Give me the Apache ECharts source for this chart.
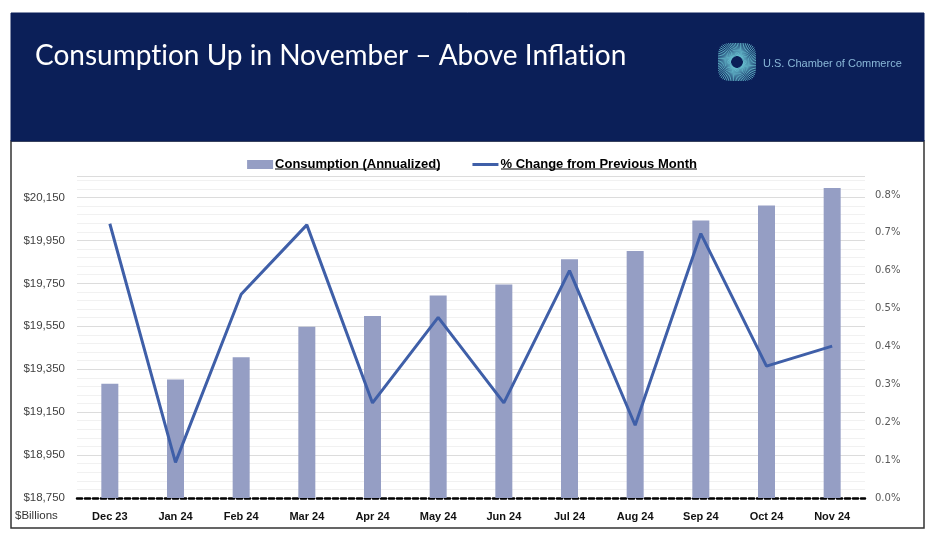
<!DOCTYPE html>
<html><head><meta charset="utf-8">
<script src="https://cdn.jsdelivr.net/npm/echarts@6/dist/echarts.min.js"></script>
<style>html,body{margin:0;padding:0;background:#fff}#c{width:944px;height:546px}</style>
</head><body><div id="c"></div>
<script>
// ---- data ----
const categories = ['Dec 23','Jan 24','Feb 24','Mar 24','Apr 24','May 24','Jun 24','Jul 24','Aug 24','Sep 24','Oct 24','Nov 24'];
const consumption = [19282,19302,19406,19548,19598,19693,19744,19862,19901,20043,20113,20194]; // $ billions, annualized
const pctChange = [0.724,0.094,0.538,0.721,0.251,0.477,0.251,0.600,0.192,0.698,0.348,0.401];   // % m/m
const leftTicks = [18750,18950,19150,19350,19550,19750,19950,20150];
const rightTicks = [0.0,0.1,0.2,0.3,0.4,0.5,0.6,0.7,0.8];
const leftAxisMax = 20250;
const rightAxisMax = 0.85;
const seriesNames = ['Consumption (Annualized)','% Change from Previous Month'];

const chart = echarts.init(document.getElementById('c'), null, {renderer:'canvas'});

// decorative logo (radial burst)
const logoLines = [];
const cx = 737, cy = 62;
for (let i = 0; i < 72; i++) {
  const a = i / 72 * Math.PI * 2;
  const c = Math.cos(a), s = Math.sin(a);
  const rOut = 19 / Math.pow(Math.pow(Math.abs(c),4)+Math.pow(Math.abs(s),4),0.25);
  const rIn = 6;
  const tw = 0.5;
  logoLines.push({type:'line', silent:true,
    shape:{x1:cx+rIn*Math.cos(a+tw), y1:cy+rIn*Math.sin(a+tw), x2:cx+rOut*c, y2:cy+rOut*s},
    style:{stroke:'#6fcad8', lineWidth:0.8}});
}

const fmtMoney = v => '$' + v.toLocaleString('en-US');

chart.setOption({
  animation:false,
  textStyle:{fontFamily:'Liberation Sans'},
  grid:{left:77, right:79, top:176, bottom:48},
  legend:{
    top:153, left:'center', itemGap:32, itemWidth:26, itemHeight:9,
    textStyle:{fontFamily:'Liberation Sans', fontWeight:'bold', fontSize:13, color:'#000', padding:[0,0,0,-3]},
    data:[{name:seriesNames[0], icon:'rect'},{name:seriesNames[1], icon:'path://M0,0 L26,0 L26,3 L0,3 Z'}]
  },
  xAxis:{
    type:'category', data:categories, boundaryGap:true,
    axisLine:{onZero:false, lineStyle:{color:'#000', width:2.5, type:[5,3]}},
    axisTick:{show:false},
    axisLabel:{margin:13, fontFamily:'Liberation Sans', fontWeight:'bold', fontSize:11, color:'#111'}
  },
  yAxis:[{
    type:'value', min:leftTicks[0], max:leftAxisMax, interval:leftTicks[1]-leftTicks[0],
    axisLine:{show:false}, axisTick:{show:false},
    axisLabel:{margin:12, fontSize:11.5, color:'#404040', showMaxLabel:false,
      formatter:v => leftTicks.includes(v) ? fmtMoney(v) : ''},
    splitLine:{lineStyle:{color:'#dcdcdc', width:1}},
    minorTick:{show:false, splitNumber:5},
    minorSplitLine:{show:true, lineStyle:{color:'#f1f1f1', width:1}}
  },{
    type:'value', min:rightTicks[0], max:rightAxisMax, interval:rightTicks[1]-rightTicks[0],
    axisLine:{show:false}, axisTick:{show:false}, splitLine:{show:false},
    axisLabel:{margin:10, fontFamily:'DejaVu Sans', fontSize:10, color:'#595959', showMaxLabel:false,
      formatter:v => rightTicks.some(t => Math.abs(t-v) < 1e-9) ? v.toFixed(1)+'%' : ''}
  }],
  series:[{
    name:seriesNames[0], type:'bar', yAxisIndex:0, data:consumption, barWidth:17,
    itemStyle:{color:'#959ec4'}
  },{
    name:seriesNames[1], type:'line', yAxisIndex:1, data:pctChange,
    symbol:'none', lineStyle:{color:'#3f5fa8', width:3}, itemStyle:{color:'#3f5fa8'}, z:5
  }],
  graphic:[
    {type:'rect', silent:true, z:-10, shape:{x:11, y:141, width:913, height:387}, style:{fill:'#fff', stroke:'#333', lineWidth:1.5}},
    {type:'rect', silent:true, z:-9, shape:{x:11, y:13, width:913, height:128}, style:{fill:'#0b1f58', stroke:'#0b1f58'}},
    {type:'text', silent:true, left:35, top:42, style:{
      text:'{t|Consumpt}{t|ion Up in November \u2013 Above Inflat}{t|ion}',
      rich:{t:{fill:'#fff', font:'28px Lato', fontFamily:'Lato', fontSize:28, color:'#fff'}},
      fill:'#fff', font:'28px Lato'}},
    {type:'group', silent:true, children:logoLines},
    {type:'circle', silent:true, shape:{cx:cx, cy:cy, r:5}, style:{fill:'#0b1f58'}},
    {type:'text', silent:true, left:763, top:58, style:{text:'U.S. Chamber of Commerce', fill:'#8ab8d8', font:'11px Liberation Sans'}},
    {type:'text', silent:true, left:15, top:510, style:{text:'$Billions', fill:'#333', font:'11.5px Liberation Sans'}},
    {type:'line', silent:true, shape:{x1:275, y1:169, x2:440, y2:169}, style:{stroke:'#000', lineWidth:1.2}},
    {type:'line', silent:true, shape:{x1:501, y1:169, x2:697, y2:169}, style:{stroke:'#000', lineWidth:1.2}}
  ]
});
</script></body></html>
